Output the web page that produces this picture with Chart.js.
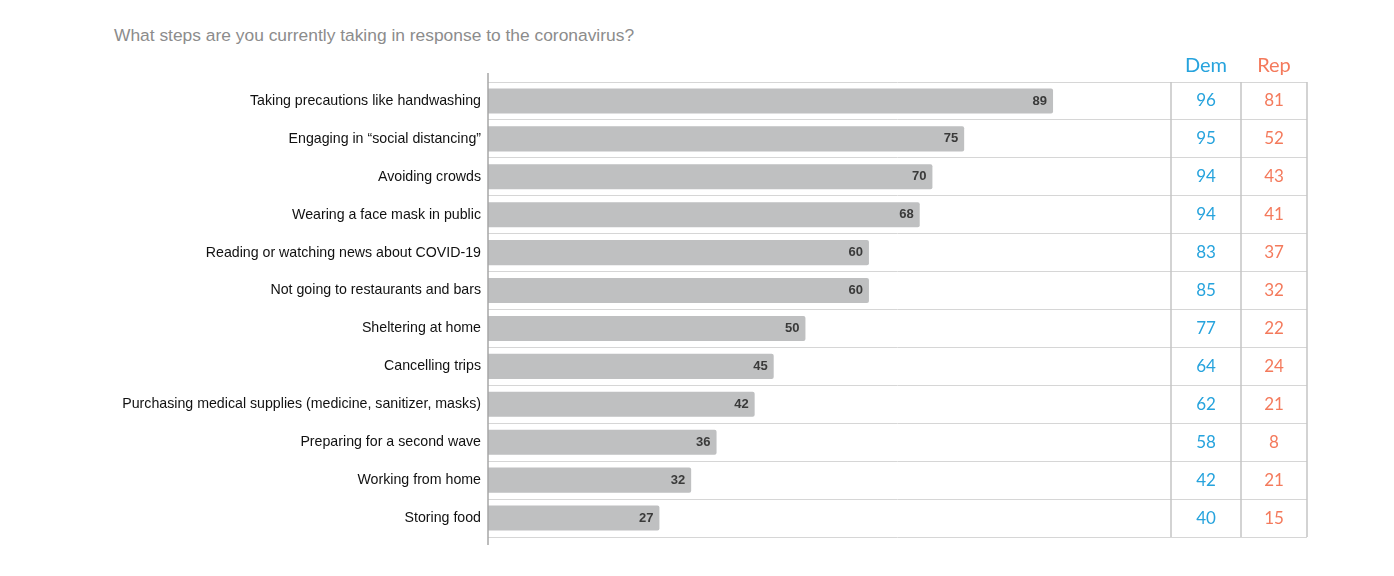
<!DOCTYPE html>
<html lang="en">
<head>
<meta charset="UTF-8">
<title>Coronavirus steps</title>
<script src="https://cdn.jsdelivr.net/npm/chart.js"></script>
<style>
    body { margin: 0; background: #fff; }
    .wrap { position: relative; width: 1394px; height: 576px; }
    .title {
        position: absolute; left: 114px; top: 25px;
        font-family: 'Liberation Sans', Arial, sans-serif;
        font-size: 17.4px; color: #8c8c8c;
    }
    canvas { position: absolute; left: 0; top: 0; }
</style>
</head>
<body>
<div class="wrap">
    <div class="title">What steps are you currently taking in response to the coronavirus?</div>
    <canvas id="stepsChart" width="1394" height="576"></canvas>
</div>
<script>
const categories = [
    "Taking precautions like handwashing",
    "Engaging in \u201csocial distancing\u201d",
    "Avoiding crowds",
    "Wearing a face mask in public",
    "Reading or watching news about COVID-19",
    "Not going to restaurants and bars",
    "Sheltering at home",
    "Cancelling trips",
    "Purchasing medical supplies (medicine, sanitizer, masks)",
    "Preparing for a second wave",
    "Working from home",
    "Storing food"
];
const totalValues = [89, 75, 70, 68, 60, 60, 50, 45, 42, 36, 32, 27];
const demValues = [96, 95, 94, 94, 83, 85, 77, 64, 62, 58, 42, 40];
const repValues = [81, 52, 43, 41, 37, 32, 22, 24, 21, 8, 21, 15];
const columnHeaders = ["Dem", "Rep"];

const DEM_COLOR = '#26a3dd';
const REP_COLOR = '#f47a5c';

// table columns on the right of the plot, widths in px
const demColWidth = 70;
const repColWidth = 66;

const extrasPlugin = {
    id: 'extras',
    afterDatasetsDraw(chart) {
        const { ctx, chartArea: { top, bottom, left, right }, scales: { y } } = chart;
        const meta = chart.getDatasetMeta(0);
        ctx.save();

        // value labels inside bar ends
        ctx.font = 'bold 13px "Liberation Sans", Arial, sans-serif';
        ctx.fillStyle = '#3a3a3a';
        ctx.textAlign = 'right';
        ctx.textBaseline = 'middle';
        meta.data.forEach((bar, i) => {
            ctx.fillText(totalValues[i], bar.x - 6, bar.y);
        });

        // table vertical lines
        const repLeft = right - repColWidth;
        const demLeft = repLeft - demColWidth;
        ctx.strokeStyle = '#c4c4c4';
        ctx.lineWidth = 1.5;
        [demLeft, repLeft, right].forEach(xp => {
            ctx.beginPath();
            ctx.moveTo(xp, top);
            ctx.lineTo(xp, bottom);
            ctx.stroke();
        });

        // y axis line, a bit longer than the plot
        ctx.strokeStyle = '#a6a6a6';
        ctx.beginPath();
        ctx.moveTo(left, top - 9);
        ctx.lineTo(left, bottom + 8);
        ctx.stroke();

        // headers
        const demX = demLeft + demColWidth / 2;
        const repX = repLeft + repColWidth / 2;
        ctx.textAlign = 'center';
        ctx.font = '20px Lato, "Open Sans", sans-serif';
        ctx.fillStyle = DEM_COLOR;
        ctx.fillText(columnHeaders[0], demX, top - 16);
        ctx.fillStyle = REP_COLOR;
        ctx.fillText(columnHeaders[1], repX, top - 16);

        // table values
        ctx.font = '17px Lato, "Open Sans", sans-serif';
        categories.forEach((c, i) => {
            const yp = y.getPixelForValue(i);
            ctx.fillStyle = DEM_COLOR;
            ctx.fillText(demValues[i], demX, yp);
            ctx.fillStyle = REP_COLOR;
            ctx.fillText(repValues[i], repX, yp);
        });
        ctx.restore();
    }
};

new Chart(document.getElementById('stepsChart'), {
    type: 'bar',
    data: {
        labels: categories,
        datasets: [{
            data: totalValues,
            backgroundColor: '#bfc0c1',
            borderWidth: 0,
            borderRadius: 2,
            borderSkipped: 'start',
            barPercentage: 0.66,
            categoryPercentage: 1
        }]
    },
    options: {
        indexAxis: 'y',
        responsive: false,
        animation: false,
        layout: { padding: { top: 82, bottom: 39, right: 87, left: 0 } },
        scales: {
            x: { display: false, min: 0, max: 129 },
            y: {
                grid: { offset: true, color: '#d6d6d6', lineWidth: 1, drawTicks: false },
                border: { display: false },
                ticks: {
                    color: '#111',
                    font: { family: '"Liberation Sans", Arial, sans-serif', size: 14.2 },
                    padding: 7
                },
                afterFit(scale) { scale.width = 488; }
            }
        },
        plugins: {
            legend: { display: false },
            tooltip: { enabled: false }
        }
    },
    plugins: [extrasPlugin]
});
</script>
</body>
</html>
